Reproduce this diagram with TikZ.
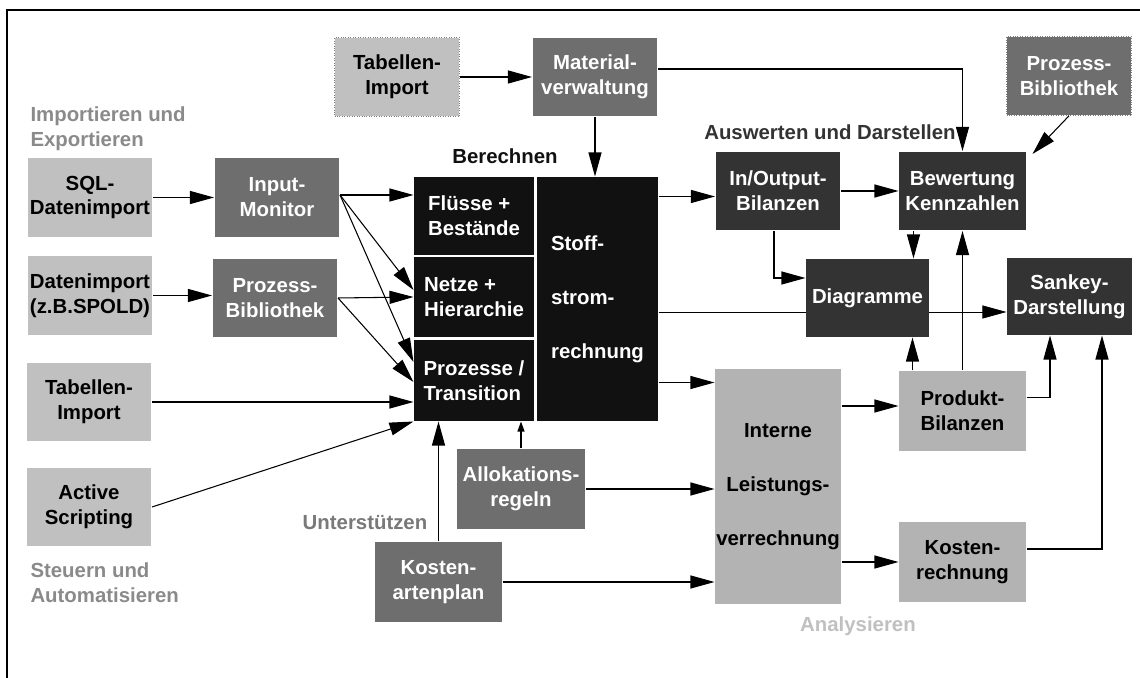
\documentclass[tikz,border=0pt]{standalone}
\usepackage{fontspec}
\setmainfont{Liberation Sans}
\usetikzlibrary{arrows.meta,backgrounds}

\definecolor{hell}{HTML}{C0C0C0}
\definecolor{hellzwei}{HTML}{B3B3B3}
\definecolor{mittel}{HTML}{6E6E6E}
\definecolor{dunkel}{HTML}{333333}
\definecolor{schwarz}{HTML}{111111}
\definecolor{labelgrau}{HTML}{8A8A8A}

\begin{document}
\begin{tikzpicture}[->,>={Triangle[length=4.8mm,width=2.6mm]},semithick,
                    x=0.02cm,y=-0.02cm,
                    every node/.style={font=\fontsize{11.6}{14.2}\selectfont\bfseries}]
  \tikzstyle{box}=[inner sep=0pt,align=center,minimum width=2.5cm,minimum height=1.58cm]
  \tikzstyle{lightbox}=[box,fill=hell,text=black]
  \tikzstyle{analysebox}=[box,fill=hellzwei,text=black,minimum width=2.54cm,minimum height=1.6cm]
  \tikzstyle{midbox}=[box,fill=mittel,text=white]
  \tikzstyle{darkbox}=[box,fill=dunkel,text=white]
  \tikzstyle{blackbox}=[box,fill=schwarz,text=white,align=left,minimum width=2.4cm]
  \tikzstyle{dotbox}=[draw=gray,densely dotted,thin]
  \tikzstyle{label}=[inner sep=0pt,align=left]

  \useasboundingbox (0,0) rectangle (1140,678);
  \draw[-,line width=1.1pt] (7,678) |- (1140,10);

  % importieren und steuern
  \node[lightbox,dotbox] (tabtop)  at (397,77)    {Tabellen-\\Import};
  \node[midbox]          (mat)     at (595,77)    {Material-\\verwaltung};
  \node[midbox,dotbox]   (pbtop)   at (1069,76)   {Prozess-\\Bibliothek};
  \node[lightbox]        (sql)     at (90,197.5)  {SQL-\\Datenimport};
  \node[midbox]          (inmon)   at (277,197.5) {Input-\\Monitor};
  \node[lightbox]        (daten)   at (90,295.5)  {Datenimport\\(z.B.SPOLD)};
  \node[midbox]          (prozbib) at (275,298)   {Prozess-\\Bibliothek};
  \node[lightbox]        (tabimp)  at (89,402)    {Tabellen-\\Import};
  \node[lightbox]        (active)  at (89,507)    {Active\\Scripting};

  % berechnen
  \node[blackbox,minimum height=1.56cm] (fluss)    at (474,216)   {Flüsse +\\Bestände};
  \node[blackbox,minimum height=1.6cm]  (netze)    at (474,297)   {Netze +\\Hierarchie};
  \node[blackbox,minimum height=1.62cm] (prozesse) at (474,380.5) {Prozesse /\\Transition};
  \node[blackbox,minimum width=2.42cm,minimum height=4.88cm] (stoff) at (597.5,299)
        {Stoff-\\[16.5pt]strom-\\[16.5pt]rechnung};
  \node[midbox,minimum width=2.56cm,minimum height=1.6cm] (allok)    at (521,489)   {Allokations-\\regeln};
  \node[midbox,minimum width=2.54cm,minimum height=1.6cm] (kostplan) at (438.5,582) {Kosten-\\artenplan};

  % auswerten und analysieren
  \node[darkbox]                          (inout)   at (778,191)      {In/Output-\\Bilanzen};
  \node[darkbox,minimum width=2.54cm]     (bew)     at (962.5,191)    {Bewertung\\Kennzahlen};
  \node[darkbox,minimum width=2.46cm,minimum height=1.56cm] (diag) at (867.5,298) {Diagramme};
  \node[darkbox,minimum height=1.54cm]    (sankey)  at (1069.5,296.5) {Sankey-\\Darstellung};
  \node[analysebox,minimum width=2.52cm,minimum height=4.7cm] (interne) at (778,486.5)
        {Interne\\[16.5pt]Leistungs-\\[16.5pt]verrechnung};
  \node[analysebox] (produkt) at (962.5,411) {Produkt-\\Bilanzen};
  \node[analysebox] (kostre)  at (962.5,562) {Kosten-\\rechnung};

  % bereichs-texte
  \node[label,text=labelgrau,anchor=west] (lblimp)  at (30,128.5) {Importieren und\\Exportieren};
  \node[label,text=labelgrau,anchor=west] (lblsteu) at (30,583)   {Steuern und\\Automatisieren};
  \node[label,text=schwarz]               (lblber)  at (505,156)  {Berechnen};
  \node[label,text=dunkel]                (lblausw) at (830,132)  {Auswerten und Darstellen};
  \node[label,text=gray!95!black]         (lblunt)  at (365,523)  {Unterstützen};
  \node[label,text=hell]                  (lblana)  at (858,626)  {Analysieren};

  \coordinate (imo) at ([yshift=0.05cm]inmon.east);
  \coordinate (pbo) at (prozbib.east);

  \begin{scope}[on background layer]
    \draw ([yshift=-0.26cm]stoff.east) coordinate (s3) -- (s3 -| sankey.west);
  \end{scope}

  \path (tabtop) edge (mat)
        (sql) edge (inmon)
        (daten.east) edge (daten.east -| prozbib.west)
        (imo) edge (imo -| fluss.west)
        (imo) edge ([yshift=0.14cm]netze.west)
        (imo) edge ([yshift=0.37cm]prozesse.west)
        (pbo) edge (netze.west)
        (pbo) edge ([yshift=-0.03cm]prozesse.west)
        (tabimp.east) edge (tabimp.east -| prozesse.west)
        (active.east) edge (prozesse.south west)
        (kostplan.north) edge (kostplan.north |- prozesse.south)
        (mat.south) edge (mat.south |- stoff.north)
        (inout) edge (bew)
        (produkt.north) edge (bew.south)
        (allok.east) edge (allok.east -| interne.west)
        (kostplan.east) edge (kostplan.east -| interne.west)
        (interne.east |- kostre.west) edge (kostre.west)
        (pbtop.south) edge ([xshift=0.12cm,yshift=-0.06cm]bew.north east);

  \draw[-{Triangle[length=2mm,width=1.4mm]}] (allok.north) -- (allok.north |- prozesse.south);
  \draw ([yshift=-0.4cm]stoff.north east) coordinate (s1) -- (s1 -| inout.west);
  \draw ([yshift=0.78cm]stoff.south east) coordinate (s2) -- (s2 -| interne.west);
  \draw[<-] ([yshift=0.1cm]produkt.west) coordinate (q1) -- (q1 -| interne.east);
  \draw ([yshift=0.16cm]mat.east) -| (bew.north);
  \draw ([xshift=-0.08cm]inout.south) |- ([yshift=0.4cm]diag.west);
  \draw ([xshift=0.3cm]bew.south west) coordinate (b1) -- (b1 |- diag.north);
  \draw ([xshift=0.28cm]produkt.north west) coordinate (p1) -- (p1 |- diag.south);
  \draw ([yshift=-0.54cm]produkt.north east) -| ([xshift=-0.39cm]sankey.south);
  \draw ([yshift=0.26cm]kostre.east) -| ([xshift=0.65cm]sankey.south);
\end{tikzpicture}
\end{document}
